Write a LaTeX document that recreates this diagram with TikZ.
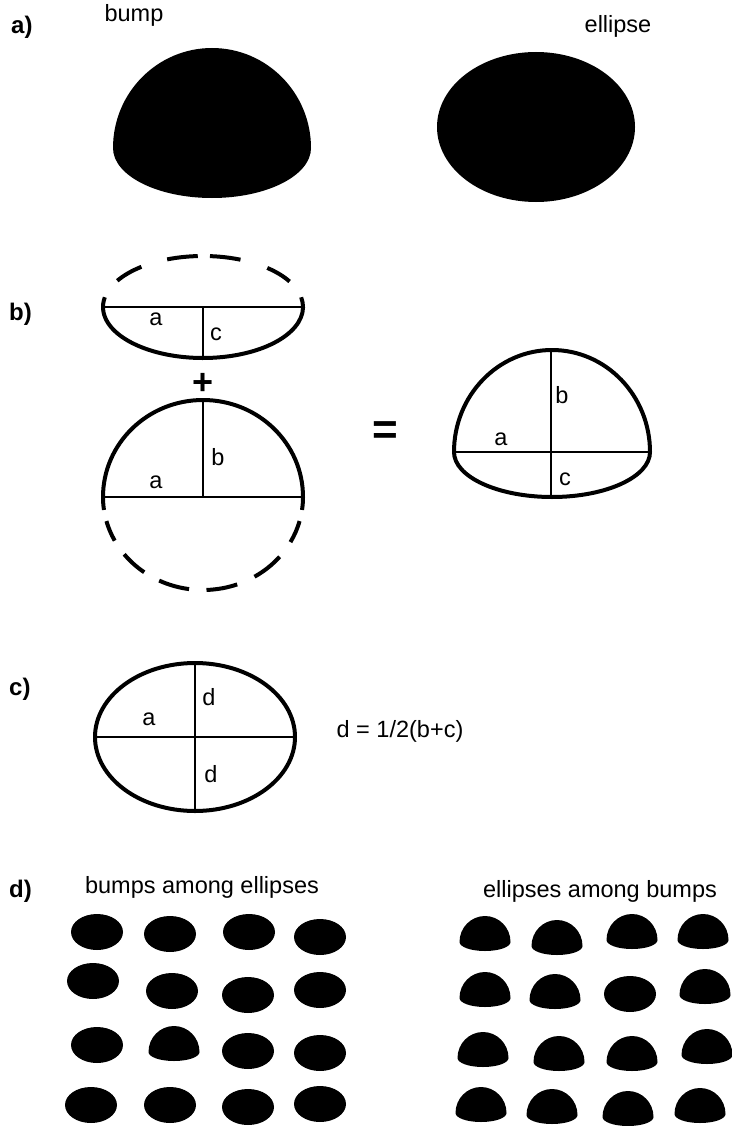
\documentclass[tikz,border=0pt]{standalone}
\usepackage{fontspec}
\setmainfont{Liberation Sans}
\newcommand{\earc}[7][]{\draw[outl,#1] (#2,#3) ++(#6:#4 and #5) arc[start angle=#6, end angle=#7, x radius=#4, y radius=#5];}
\newcommand{\bumpfill}[5]{\fill ({#1-#3},#2) arc[start angle=180, end angle=360, x radius=#3, y radius=#4] arc[start angle=0, end angle=180, x radius=#3, y radius=#5] -- cycle;}
\begin{document}
\begin{tikzpicture}[x=1pt,y=-1pt,
  lbl/.style={font=\fontsize{23.5}{28}\selectfont, inner sep=0pt, anchor=base},
  sec/.style={font=\fontsize{24}{28}\selectfont\bfseries, inner sep=0pt, anchor=base west},
  outl/.style={line width=4pt},
  axisl/.style={line width=2pt}]
\useasboundingbox (0,0) rectangle (731,1126);
\fill[white] (0,0) rectangle (731,1126);

% ---------- a) ----------
\node[sec] (la) at (11,34) {a)};
\node[lbl] (tbump) at (134,22) {bump};
\node[lbl] (tell) at (618,33) {ellipse};
\bumpfill{212}{148}{99}{100}{50}
\fill (536,127) ellipse [x radius=99, y radius=75];

% ---------- b) ----------
\node[sec] (lb) at (9,320) {b)};
% top ellipse (lower half solid, upper half dashed)
\earc{203}{307}{100}{51}{-11}{191}
\earc{203}{307}{100}{51}{-50}{-30}
\earc{203}{307}{100}{51}{-86}{-68}
\earc{203}{307}{100}{51}{-111}{-93}
\earc{203}{307}{100}{51}{-149}{-128}
\draw[axisl] (103,307) -- (303,307);
\draw[axisl] (203,307) -- (203,357);
\node[lbl] (ba1) at (156,325) {a};
\node[lbl] (bc1) at (216,340) {c};
% plus
\node[font=\fontsize{36}{36}\selectfont\bfseries, inner sep=0pt] (plus) at (203,384) {+};
% lower circle (upper half solid, lower half dashed)
\earc{203}{497}{100}{97}{180}{360}
\earc{203}{497}{100}{93}{0}{8}
\earc{203}{497}{100}{93}{172}{180}
\earc{203}{497}{100}{93}{15}{29}
\earc{203}{497}{100}{93}{40}{59}
\earc{203}{497}{100}{93}{70}{88}
\earc{203}{497}{100}{93}{98}{116}
\earc{203}{497}{100}{93}{126}{142}
\earc{203}{497}{100}{93}{152}{165}
\draw[axisl] (103,497) -- (303,497);
\draw[axisl] (203,400) -- (203,497);
\node[lbl] (bb2) at (218,465) {b};
\node[lbl] (ba2) at (156,488) {a};
% equals
\node[font=\fontsize{44}{44}\selectfont\bfseries, inner sep=0pt] (eq) at (385,433) {=};
% resulting bump
\draw[outl] (454,452) arc[start angle=180, end angle=360, x radius=98, y radius=102]
  arc[start angle=0, end angle=180, x radius=98, y radius=45] -- cycle;
\draw[axisl] (454,452) -- (650,452);
\draw[axisl] (551,350) -- (551,497);
\node[lbl] (rb) at (562,403) {b};
\node[lbl] (ra) at (501,445) {a};
\node[lbl] (rc) at (565,485) {c};

% ---------- c) ----------
\node[sec] (lc) at (9,695) {c)};
\draw[outl] (195,737) ellipse [x radius=100, y radius=74];
\draw[axisl] (95,737) -- (295,737);
\draw[axisl] (195,663) -- (195,812);
\node[lbl] (cd1) at (209,705) {d};
\node[lbl] (ca) at (149,725) {a};
\node[lbl] (cd2) at (211,782) {d};
\node[lbl] (ceq) at (400,737) {d = 1/2(b+c)};

% ---------- d) ----------
\node[sec] (ld) at (9,897) {d)};
\node[lbl] (tbae) at (202,893) {bumps among ellipses};
\node[lbl] (teab) at (600,897) {ellipses among bumps};
\foreach \cx/\cy in {97/932,170/934,249/932,320/937,
                     93/981,172/991,248/995,320/990,
                     97/1045,248/1051,320/1053,
                     91/1105,170/1105,248/1107,320/1104}
  \fill (\cx,\cy) ellipse [x radius=26, y radius=18];
\bumpfill{174}{1052}{25.5}{26}{9}
\foreach \cx/\cy in {485/942,557/946,632/940,703/940,
                     485/998,555/1000,705/995,
                     483/1058,559/1062,632/1062,707/1055,
                     481/1113,552/1115,628/1117,700/1114}
  {\bumpfill{\cx}{\cy}{25.5}{26}{9}}
\fill (630,994) ellipse [x radius=26, y radius=18];
\end{tikzpicture}
\end{document}
